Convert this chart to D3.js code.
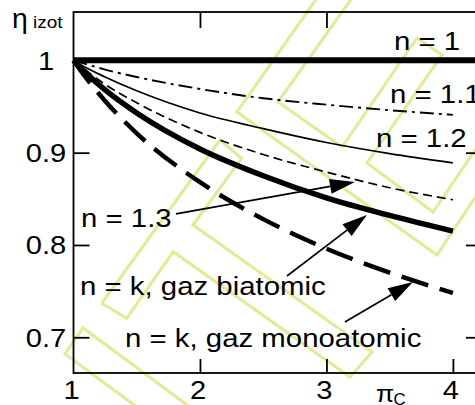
<!DOCTYPE html>
<html>
<head>
<meta charset="utf-8">
<script src="https://cdn.jsdelivr.net/npm/d3@7"></script>
<style>
  html, body { margin: 0; padding: 0; background: #fff; }
  svg { display: block; }
  text { font-family: "Liberation Sans", Arial, Helvetica, sans-serif; fill: #000; }
</style>
</head>
<body>
<script>
// Isothermal compressor efficiency vs. pressure ratio, for several polytropic exponents
const piC     = [1, 1.1, 1.25, 1.5, 2, 2.5, 3, 3.5, 4];
const etaN11  = [1, 0.996, 0.990, 0.982, 0.969, 0.959, 0.952, 0.946, 0.941];
const etaN12  = [1, 0.992, 0.982, 0.967, 0.943, 0.926, 0.911, 0.899, 0.889];
const etaN13  = [1, 0.989, 0.974, 0.954, 0.922, 0.898, 0.879, 0.862, 0.849];
const etaBi   = [1, 0.986, 0.968, 0.943, 0.904, 0.875, 0.851, 0.832, 0.815];
const etaMono = [1, 0.981, 0.956, 0.921, 0.868, 0.828, 0.796, 0.770, 0.748];
// n = 1 runs flat across the whole frame
const piFlat  = [1, 4.3];
const etaN1   = [1, 1];

const yTicks = [0.7, 0.8, 0.9, 1];
const yTickLabels = ["0.7", "0.8", "0.9", "1"];
const xTicks = [1, 2, 3, 4];
const xTickLabels = ["1", "2", "3", "4"];
const curveLabels = ["n = 1", "n = 1.1", "n = 1.2", "n = 1.3",
                     "n = k, gaz biatomic", "n = k, gaz monoatomic"];

const W = 475, H = 405;
const frameL = 73.5, frameR = 482, frameT = 12, frameB = 373;

const x = d3.scaleLinear().domain([1, 4.23]).range([frameL, frameR]);
const y = d3.scaleLinear().domain([0.6613, 1.0524]).range([frameB, frameT]);

const svg = d3.select("body").append("svg")
  .attr("width", W).attr("height", H);

// faint background watermark
const watermark = [
  [[317, -2], [237, 112], [437, 255], [478, 193]],
  [[352, -2], [278, 102], [342, 147], [417, 38], [442, 55], [367, 163], [433, 212], [478, 146]],
  [[101.7, 303.3], [220, 140], [241.7, 158.3], [193, 225], [372, 352], [350, 377],
   [173.3, 251.7], [126.7, 318.3], [101.7, 303.3]],
  [[141, 410], [65, 354], [83, 328], [190, 407]]
];
svg.append("g").selectAll("path").data(watermark).join("path")
  .attr("d", d => d3.line()(d))
  .attr("fill", "none").attr("stroke", "#e3ea94").attr("stroke-width", 3)
  .attr("stroke-linejoin", "miter");

// curves
const series = [
  { xs: piFlat, ys: etaN1,   w: 6,   dash: null },
  { xs: piC,    ys: etaN11,  w: 1.9, dash: "14,5,3,5" },
  { xs: piC,    ys: etaN12,  w: 1.7, dash: null },
  { xs: piC,    ys: etaN13,  w: 1.7, dash: "9,5" },
  { xs: piC,    ys: etaBi,   w: 5.5, dash: null },
  { xs: piC,    ys: etaMono, w: 4.5, dash: "28,12" }
];
const line = d3.line().x(d => x(d[0])).y(d => y(d[1])).curve(d3.curveMonotoneX);
svg.append("g").selectAll("path").data(series).join("path")
  .attr("d", s => line(s.xs.map((v, i) => [v, s.ys[i]])))
  .attr("fill", "none").attr("stroke", "#000")
  .attr("stroke-width", s => s.w)
  .attr("stroke-dasharray", s => s.dash)
  .attr("stroke-linecap", "butt");

// frame and inward ticks
svg.append("rect")
  .attr("x", frameL).attr("y", frameT).attr("width", frameR - frameL).attr("height", frameB - frameT)
  .attr("fill", "none").attr("stroke", "#000").attr("stroke-width", 1.8);

function ticksOnly(axis, tx, ty) {
  const g = svg.append("g").attr("transform", `translate(${tx},${ty})`).call(axis);
  g.select(".domain").remove();
  g.selectAll(".tick line").attr("stroke", "#000").attr("stroke-width", 1.8);
  g.selectAll(".tick text").remove();
}
ticksOnly(d3.axisLeft(y).tickValues(yTicks).tickSize(-16), frameL, 0);
ticksOnly(d3.axisRight(y).tickValues(yTicks).tickSize(-16), frameR, 0);
ticksOnly(d3.axisBottom(x).tickValues(xTicks.slice(1)).tickSize(-14), 0, frameB);
ticksOnly(d3.axisTop(x).tickValues([2, 3]).tickSize(-16), 0, frameT);

// text set slightly wide
function label(str, tx, ty, size, anchor, sx) {
  return svg.append("text")
    .attr("transform", `translate(${tx},${ty}) scale(${sx},1)`)
    .attr("font-size", size).attr("text-anchor", anchor).text(str);
}

yTicks.forEach((v, i) => label(yTickLabels[i], 46, y(v) + 9.3, 26, "middle", 1.12));
xTicks.forEach((v, i) => label(xTickLabels[i], x(v) - 2, 399, 26, "middle", 1.12));

// axis titles
label("\u03b7", 12, 28, 27, "start", 1.05);
label("izot", 33, 28, 17, "start", 1.12);
label("\u03c0", 376, 402, 24, "start", 1.1);
label("C", 393.5, 405, 16, "start", 1.05);

// curve names
const labelPos = [[394, 50], [390, 103], [376, 147], [81, 227], [80, 295], [125, 347]];
curveLabels.forEach((t, i) => label(t, labelPos[i][0], labelPos[i][1], 26, "start", 1.13));

// pointer arrows from the lower labels to their curves
const arrows = [
  { from: [1.810, 0.8336], to: [3.225, 0.8683] },
  { from: [2.688, 0.7664], to: [3.320, 0.8325] },
  { from: [3.146, 0.7166], to: [3.684, 0.7599] }
];
const headLen = 25, headHalf = 7.5;
arrows.forEach(a => {
  const x0 = x(a.from[0]), y0 = y(a.from[1]), x1 = x(a.to[0]), y1 = y(a.to[1]);
  const ang = Math.atan2(y1 - y0, x1 - x0);
  const bx = x1 - headLen * Math.cos(ang), by = y1 - headLen * Math.sin(ang);
  svg.append("line").attr("x1", x0).attr("y1", y0).attr("x2", bx).attr("y2", by)
    .attr("stroke", "#000").attr("stroke-width", 1.7);
  const px = -Math.sin(ang) * headHalf, py = Math.cos(ang) * headHalf;
  svg.append("path")
    .attr("d", `M${x1},${y1}L${bx + px},${by + py}L${bx - px},${by - py}Z`)
    .attr("fill", "#000");
});
</script>
</body>
</html>
